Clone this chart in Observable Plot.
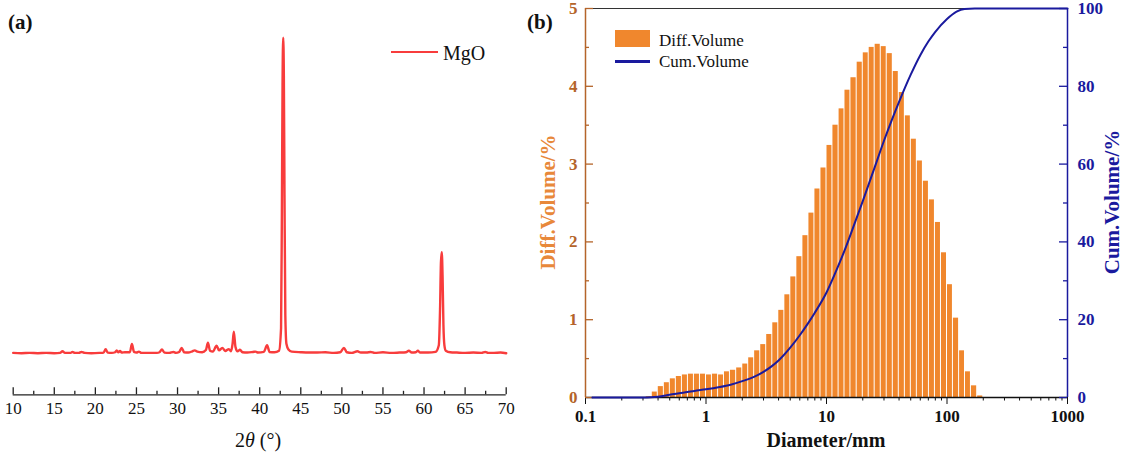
<!DOCTYPE html>
<html><head><meta charset="utf-8">
<script src="https://cdn.jsdelivr.net/npm/d3@7"></script>
<script src="https://cdn.jsdelivr.net/npm/@observablehq/plot@0.6"></script>
<style>
body{margin:0;background:#fff;}
#root{position:relative;width:1125px;height:457px;overflow:hidden;font-family:"Liberation Serif",serif;color:#111;}
#root svg{position:absolute;left:0;top:0;}
#root svg text{font-family:"Liberation Serif",serif;}
.lbl{position:absolute;white-space:nowrap;line-height:1;}
.c{transform:translate(-50%,-50%);}
.rot{transform:translate(-50%,-50%) rotate(-90deg);}
</style></head><body><div id="root"></div>
<script>
// ---------- Panel (a): XRD pattern ----------
const xrdTheta = [10.0,11.0,12.0,13.0,14.0,15.0,15.7,16.0,16.3,17.0,17.2,17.5,18.0,18.3,18.7,19.5,20.5,21.0,21.25,21.5,22.0,22.4,22.6,22.8,23.0,23.2,23.6,24.2,24.45,24.7,25.0,25.3,25.6,26.5,27.5,27.8,28.1,28.4,29.0,29.5,29.8,30.2,30.5,30.8,31.3,31.8,32.1,32.4,33.0,33.45,33.7,33.95,34.3,34.75,35.05,35.45,35.8,36.25,36.5,36.7,36.85,37.05,37.3,37.6,37.9,38.5,39.2,39.5,39.8,40.5,40.9,41.2,41.8,42.35,42.6,42.7,42.78,42.86,42.94,43.02,43.12,43.25,43.5,43.9,45.0,46.0,47.0,48.0,49.0,49.8,50.25,50.6,51.2,51.9,52.3,53.0,53.5,54.0,55.0,56.0,57.0,57.8,58.15,58.5,59.0,59.25,59.5,60.5,61.4,61.8,61.95,62.06,62.16,62.26,62.36,62.48,62.65,63.2,64.0,65.0,66.0,67.0,67.45,67.8,68.5,69.3,70.0];
const xrdIntensity = [0.1,0,0.1,0,0.1,0,0.1,0.6,0.1,0.1,0.4,0.1,0.1,0.4,0.1,0,0.1,0.2,1.3,0.2,0.1,0.3,0.9,0.3,0.7,0.2,0.3,0.3,2.9,0.4,0.2,0.5,0.1,0.1,0.1,0.3,1.2,0.2,0.1,0.4,0.1,0.4,1.7,0.3,0.2,0.6,0.9,0.5,0.3,1.0,3.3,0.8,0.5,2.4,0.9,1.7,0.7,1.3,0.6,3.0,6.8,2.0,0.6,1.1,0.3,0.2,0.4,0.5,0.2,0.4,2.5,0.4,0.3,0.8,8,45,85,100,88,50,12,3,1.2,0.5,0.3,0.2,0.2,0.3,0.1,0.3,1.7,0.3,0.1,0.6,0.2,0.2,0.4,0.1,0.3,0.1,0.2,0.3,0.8,0.2,0.3,0.8,0.2,0.2,0.4,2.5,14,29,32,24,9,2.5,0.8,0.3,0.2,0.1,0.2,0.1,0.4,0.1,0.1,0.2,0];
const xrdTicks = [10,15,20,25,30,35,40,45,50,55,60,65,70];
const xrdMinorTicks = [12.5,17.5,22.5,27.5,32.5,37.5,42.5,47.5,52.5,57.5,62.5,67.5];

// ---------- Panel (b): particle size distribution ----------
const sizeEdges = [0.316,0.355,0.398,0.447,0.501,0.562,0.631,0.708,0.794,0.891,
  1.00,1.12,1.26,1.41,1.58,1.78,2.00,2.24,2.51,2.82,3.16,3.55,3.98,4.47,5.01,5.62,6.31,7.08,7.94,8.91,
  10.0,11.2,12.6,14.1,15.8,17.8,20.0,22.4,25.1,28.2,31.6,35.5,39.8,44.7,50.1,56.2,63.1,70.8,79.4,89.1,
  100,112,126,141,158,178,200];
const diffVolume = [0.01,0.07,0.14,0.19,0.24,0.27,0.29,0.30,0.30,0.30,
  0.29,0.30,0.29,0.33,0.35,0.38,0.43,0.51,0.60,0.68,0.81,0.96,1.12,1.32,1.55,1.81,2.08,2.37,2.68,2.95,
  3.24,3.50,3.71,3.95,4.11,4.31,4.43,4.50,4.54,4.51,4.42,4.19,3.92,3.62,3.32,3.04,2.78,2.54,2.25,1.86,
  1.45,1.02,0.60,0.33,0.15,0.02];
const cumDiameter = [0.114,0.3,0.35,0.4,0.5,0.6,0.7,0.8,1.0,1.3,1.6,2.0,2.5,3.0,3.5,4.0,5.0,6.0,7.0,8.0,10,12,14,17,20,25,30,35,40,50,60,70,80,100,120,140,170,1000];
const cumVolume = [0,0,0.05,0.2,0.7,1.1,1.4,1.7,2.1,2.7,3.3,4.2,5.3,6.6,8.0,9.5,12.8,16.0,19.0,21.8,27.0,32.5,37.5,44.5,50.5,59,66,71.5,76,83,88,91.5,94,97.3,99.2,99.9,100,100];
const sizeTicks = [0.1,1,10,100,1000];
const sizeMinorTicks = [0.2,0.3,0.4,0.5,0.6,0.7,0.8,0.9,2,3,4,5,6,7,8,9,20,30,40,50,60,70,80,90,200,300,400,500,600,700,800,900];
const diffTicks = [0,1,2,3,4,5];
const diffMinorTicks = [0.5,1.5,2.5,3.5,4.5];
const cumTicks = [0,20,40,60,80,100];
const cumMinorTicks = [10,30,50,70,90];

const W = 1125, H = 457;
const FONT = '"Liberation Serif",serif';
const RED = "#f83c3c", ORANGE = "#f0872d", BROWN = "#b4642a", TITLEORANGE = "#e8883a", BLUE = "#1a1a9e";
const root = document.getElementById("root");

// Panel (a)
const aL = 12.7, aR = 505.7, aT = 20, aB = 394.3;
const aYdom = [-13.19, 105.49];
const xrd = xrdTheta.map((t, i) => ({t, v: xrdIntensity[i]}));
const plotA = Plot.plot({
  width: W, height: H, marginLeft: aL, marginRight: W - aR, marginTop: aT, marginBottom: H - aB,
  style: {background: "transparent", fontFamily: FONT},
  x: {domain: [10, 70]},
  y: {domain: aYdom, axis: null},
  marks: [
    Plot.ruleY([aYdom[0]], {stroke: "#222", strokeWidth: 1.3}),
    Plot.tickX(xrdTicks, {x: d => d, insetTop: (aB - aT) - 7, stroke: "#222", strokeWidth: 1.3}),
    Plot.tickX(xrdMinorTicks, {x: d => d, insetTop: (aB - aT) - 3.5, stroke: "#222", strokeWidth: 1.3}),
    Plot.axisX({ticks: xrdTicks, tickSize: 0, tickPadding: 7, fontSize: 17, color: "#111", label: null, tickFormat: d => String(d)}),
    Plot.line(xrd, {x: "t", y: "v", stroke: RED, strokeWidth: 2.4, curve: "monotone-x"})
  ]
});
root.appendChild(plotA);

// Panel (b) bars + left axis
const bL = 585, bR = 1067, bT = 8, bB = 397;
const bins = diffVolume.map((v, i) => ({x1: sizeEdges[i], x2: sizeEdges[i + 1], v}));
const plotB = Plot.plot({
  width: W, height: H, marginLeft: bL, marginRight: W - bR, marginTop: bT, marginBottom: H - bB,
  style: {background: "transparent", fontFamily: FONT},
  x: {type: "log", domain: [0.1, 1000]},
  y: {domain: [0, 5], axis: null},
  marks: [
    Plot.rect(bins, {x1: "x1", x2: "x2", y1: 0, y2: "v", fill: ORANGE, insetLeft: 0.5, insetRight: 0.5}),
    Plot.ruleY([5], {stroke: "#333", strokeWidth: 1.2}),
    Plot.ruleY([0], {stroke: "#111", strokeWidth: 1.5}),
    Plot.axisX({ticks: sizeTicks, tickSize: 7, tickPadding: 5, fontSize: 17, fontWeight: "bold", color: "#111", label: null, tickFormat: d => String(d)}),
    Plot.axisX({ticks: sizeMinorTicks, tickSize: 3.5, color: "#111", label: null, tickFormat: () => ""}),
    Plot.ruleX([0.1], {stroke: BROWN, strokeWidth: 1.5}),
    Plot.tickY(diffTicks, {y: d => d, insetRight: (bR - bL) - 8, stroke: BROWN, strokeWidth: 1.3}),
    Plot.tickY(diffMinorTicks, {y: d => d, insetRight: (bR - bL) - 4, stroke: BROWN, strokeWidth: 1.3}),
    Plot.axisY({ticks: diffTicks, tickSize: 0, tickPadding: 8, fontSize: 17, fontWeight: "bold", color: BROWN, label: null, tickFormat: d => String(d)})
  ]
});
root.appendChild(plotB);

// Panel (b) cumulative curve + right axis
const cum = cumDiameter.map((d, i) => ({d, v: cumVolume[i]}));
const plotC = Plot.plot({
  width: W, height: H, marginLeft: bL, marginRight: W - bR, marginTop: bT, marginBottom: H - bB,
  style: {background: "transparent", fontFamily: FONT},
  x: {type: "log", domain: [0.1, 1000], axis: null},
  y: {domain: [0, 100], axis: null},
  marks: [
    Plot.ruleX([1000], {stroke: BLUE, strokeWidth: 1.5}),
    Plot.tickY(cumTicks, {y: d => d, insetLeft: (bR - bL) - 8, stroke: BLUE, strokeWidth: 1.3}),
    Plot.tickY(cumMinorTicks, {y: d => d, insetLeft: (bR - bL) - 4, stroke: BLUE, strokeWidth: 1.3}),
    Plot.axisY({anchor: "right", ticks: cumTicks, tickSize: 0, tickPadding: 10, fontSize: 17, fontWeight: "bold", color: BLUE, label: null, tickFormat: d => String(d)}),
    Plot.line(cum, {x: "d", y: "v", stroke: BLUE, strokeWidth: 2, curve: "monotone-x"})
  ]
});
root.appendChild(plotC);

// Text & legends
function addLabel(html, css, cls) {
  const s = document.createElement("span");
  s.className = "lbl" + (cls ? " " + cls : "");
  s.innerHTML = html;
  Object.assign(s.style, css);
  root.appendChild(s);
  return s;
}
function addBox(css) {
  const d = document.createElement("div");
  d.style.position = "absolute";
  Object.assign(d.style, css);
  root.appendChild(d);
}
addLabel("(a)", {left: "8px", top: "12px", fontSize: "21px", fontWeight: "bold"});
addLabel("(b)", {left: "527px", top: "12px", fontSize: "21px", fontWeight: "bold"});
addBox({left: "391px", top: "51px", width: "47px", height: "2.4px", background: RED});
addLabel("MgO", {left: "443px", top: "43px", fontSize: "20px"});
addLabel('2<i>θ</i> (°)', {left: "258px", top: "440px", fontSize: "20px"}, "c");
addLabel("Diameter/mm", {left: "826px", top: "440px", fontSize: "20px", fontWeight: "bold"}, "c");
addLabel("Diff.Volume/%", {left: "548px", top: "202px", fontSize: "21px", fontWeight: "bold", color: TITLEORANGE}, "rot");
addLabel("Cum.Volume/%", {left: "1112px", top: "202px", fontSize: "21px", fontWeight: "bold", color: BLUE}, "rot");
addBox({left: "615px", top: "30px", width: "35px", height: "17px", background: ORANGE});
addLabel("Diff.Volume", {left: "659px", top: "32px", fontSize: "17px"});
addBox({left: "615px", top: "60px", width: "35px", height: "2.5px", background: BLUE});
addLabel("Cum.Volume", {left: "659px", top: "53px", fontSize: "17px"});
</script></body></html>
